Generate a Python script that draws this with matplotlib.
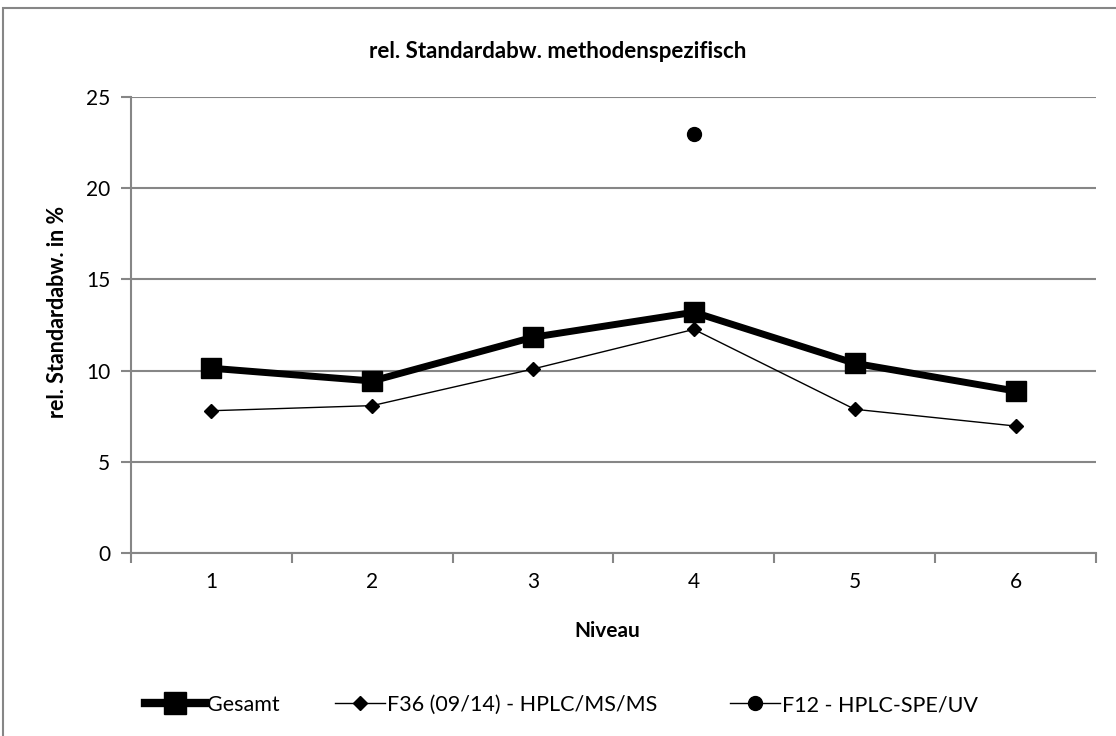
import matplotlib
matplotlib.use("Agg")
import matplotlib.pyplot as plt
from matplotlib.lines import Line2D
from matplotlib.patches import Rectangle
import numpy as np

categories = ["1", "2", "3", "4", "5", "6"]
gesamt = [10.13, 9.43, 11.83, 13.20, 10.40, 8.88]
f36 = [7.80, 8.08, 10.09, 12.26, 7.88, 6.96]
f12 = [np.nan, np.nan, np.nan, 22.95, np.nan, np.nan]
series_names = ["Gesamt", "F36 (09/14) - HPLC/MS/MS", "F12 - HPLC-SPE/UV"]

plt.rcParams['font.family'] = ['Lato', 'DejaVu Sans']
grey = "#868686"

fig = plt.figure(figsize=(11.16, 7.36), dpi=100)
ax = fig.add_axes([131/1116, 1-553/736, (1096-131)/1116, (553-97)/736])

x = np.arange(len(categories))
ax.plot(x, gesamt, color="black", lw=5, marker="s", ms=14, mec="black", mfc="black",
        solid_joinstyle="round", zorder=3)
ax.plot(x, f36, color="black", lw=1, marker="D", ms=7, zorder=4)
ax.plot(x, f12, color="black", lw=1, marker="o", ms=10, zorder=4)

ax.set_xlim(-0.5, len(categories) - 0.5)
ax.set_ylim(0, 25)
ax.set_yticks([0, 5, 10, 15, 20, 25])
ax.set_xticks(x)
ax.set_xticklabels(categories)
ax.set_xticks(np.arange(-0.5, len(categories)), minor=True)
ax.tick_params(axis="x", which="major", length=0, pad=14, labelsize=15)
ax.tick_params(axis="x", which="minor", length=7, width=1.5, color=grey, direction="out")
ax.tick_params(axis="y", length=7, width=1.5, color=grey, pad=8, labelsize=15)
ax.yaxis.grid(True, color=grey, lw=1.5)
ax.set_axisbelow(True)
for s in ["top", "right"]:
    ax.spines[s].set_visible(False)
for s in ["left", "bottom"]:
    ax.spines[s].set_color(grey)
    ax.spines[s].set_linewidth(1.5)

fig.text(558/1116, 1-51/736, "rel. Standardabw. methodenspezifisch", ha="center", va="center",
         fontsize=16, fontweight="bold")
fig.text(607/1116, 1-631/736, "Niveau", ha="center", va="center", fontsize=15, fontweight="bold")
fig.text(57/1116, 1-312/736, "rel. Standardabw. in %", ha="center", va="center", rotation=90,
         fontsize=15.5, fontweight="bold")

handles = [
    Line2D([], [], color="black", lw=6, marker="s", ms=16),
    Line2D([], [], color="black", lw=1, marker="D", ms=7),
    Line2D([], [], color="black", lw=1, marker="o", ms=10),
]
starts = [145, 335, 730]
hlens = [60, 50, 50]
fs = 15.5
for h, name, sx, hl in zip(handles, series_names, starts, hlens):
    fig.legend([h], [name], loc="center left", bbox_to_anchor=(sx/1116, 1-705/736),
               frameon=False, fontsize=fs, handlelength=hl/(fs*100/72), handletextpad=0.1,
               borderpad=0, borderaxespad=0)

fig.patches.append(Rectangle((3/1116, -0.01), 1.0, 1-8/736+0.01, transform=fig.transFigure,
                             fill=False, edgecolor=grey, lw=1.5))

fig.savefig("out.png", dpi=100)
